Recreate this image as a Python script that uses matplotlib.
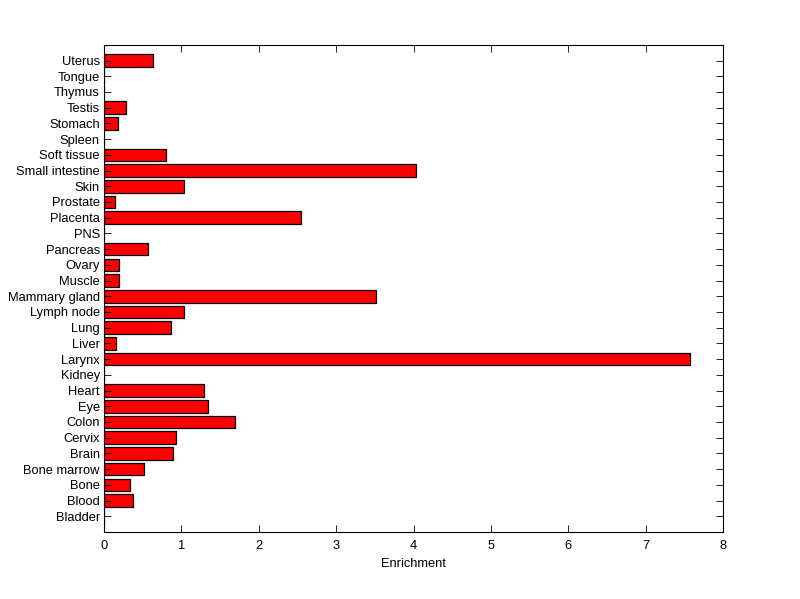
import matplotlib
matplotlib.use("Agg")
import matplotlib.pyplot as plt

# tecidos, de baixo para cima
tissues = ["Bladder", "Blood", "Bone", "Bone marrow", "Brain", "Cervix", "Colon",
           "Eye", "Heart", "Kidney", "Larynx", "Liver", "Lung", "Lymph node",
           "Mammary gland", "Muscle", "Ovary", "Pancreas", "PNS", "Placenta",
           "Prostate", "Skin", "Small intestine", "Soft tissue", "Spleen",
           "Stomach", "Testis", "Thymus", "Tongue", "Uterus"]
enrichment = [0.0, 0.38, 0.34, 0.52, 0.89, 0.93, 1.69,
              1.35, 1.29, 0.0, 7.57, 0.15, 0.86, 1.04,
              3.51, 0.19, 0.20, 0.57, 0.0, 2.55,
              0.14, 1.03, 4.03, 0.80, 0.0,
              0.18, 0.28, 0.0, 0.0, 0.63]

plt.rcParams["font.family"] = ["Liberation Sans", "DejaVu Sans"]
plt.rcParams["font.size"] = 9.3

fig = plt.figure(figsize=(8.0, 5.99), dpi=100)
ax = fig.add_axes([0.13, 0.1119, 0.774, 0.8133])

pos = list(range(1, len(tissues) + 1))
ax.barh(pos, enrichment, height=0.8, color="red", edgecolor="black", linewidth=0.9)

ax.set_xlim(0, 8)
ax.set_ylim(0, len(tissues) + 1)
ax.set_yticks(pos)
ax.set_yticklabels(tissues)
ax.set_xticks(range(0, 9))
ax.set_xlabel("Enrichment", labelpad=4)
ax.tick_params(direction="in", top=True, right=True, length=5, width=0.6)
ax.tick_params(axis="y", pad=3)
ax.tick_params(axis="x", pad=6)
for s in ax.spines.values():
    s.set_linewidth(0.8)

fig.savefig("out.png", dpi=100)
